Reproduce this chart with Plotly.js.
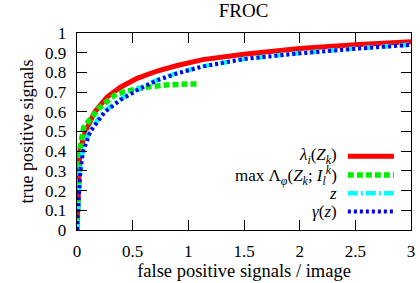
<!DOCTYPE html>
<html><head><meta charset="utf-8">
<script src="https://cdn.plot.ly/plotly-3.0.1.min.js"></script>
<style>html,body{margin:0;padding:0;background:#fff}#chart{width:420px;height:283px}</style>
</head><body><div id="chart"></div>
<script>
// FROC data
var lambdaX = [0, 0.005, 0.01, 0.015, 0.025, 0.075, 0.16, 0.27, 0.39, 0.54, 0.72, 0.9, 1.13, 1.5, 2.0, 2.5, 3.0];
var lambdaY = [0, 0.1, 0.2, 0.3, 0.4, 0.5, 0.6, 0.675, 0.725, 0.77, 0.807, 0.835, 0.865, 0.892, 0.921, 0.94, 0.955];

var maxLambdaX = [0, 0.005, 0.01, 0.015, 0.022, 0.06, 0.13, 0.2, 0.34, 0.42, 0.61, 0.8, 1.0, 1.1];
var maxLambdaY = [0, 0.1, 0.2, 0.3, 0.4, 0.52, 0.575, 0.62, 0.685, 0.702, 0.724, 0.736, 0.741, 0.742];

var zX = [0, 0.008, 0.013, 0.027, 0.05, 0.11, 0.24, 0.38, 0.53, 0.71, 0.89, 1.12, 1.5, 2.0, 2.5, 3.0];
var zY = [0, 0.1, 0.2, 0.3, 0.4, 0.5, 0.6, 0.66, 0.71, 0.76, 0.795, 0.83, 0.868, 0.898, 0.921, 0.941];

var gammaX = [0, 0.01, 0.015, 0.03, 0.055, 0.12, 0.25, 0.39, 0.54, 0.72, 0.9, 1.13, 1.5, 2.0, 2.5, 3.0];
var gammaY = [0, 0.1, 0.2, 0.3, 0.4, 0.5, 0.6, 0.66, 0.71, 0.76, 0.795, 0.83, 0.868, 0.897, 0.92, 0.94];

var seriesNames = [
  '<i>λ<sub>i</sub></i>(<i>Z<sub>k</sub></i>)',
  'max Λ<sub><i>φ</i></sub>(<i>Z<sub>k</sub></i>; <i>I<sub>l</sub><sup>k</sup></i>)',
  '<i>z</i>',
  '<i>γ</i>(<i>z</i>)'
];
var xTicks = [0, 0.5, 1, 1.5, 2, 2.5, 3];
var xTickText = ['0', '0.5', '1', '1.5', '2', '2.5', '3'];
var yTicks = [0, 0.1, 0.2, 0.3, 0.4, 0.5, 0.6, 0.7, 0.8, 0.9, 1];
var yTickText = ['0', '0.1', '0.2', '0.3', '0.4', '0.5', '0.6', '0.7', '0.8', '0.9', '1'];

var FONT = 'Liberation Serif, Times New Roman, serif';
var styles = [
  {color: '#ff0000', width: 5, dash: 'solid'},
  {color: '#00ee00', width: 5.5, dash: '6px,3px'},
  {color: '#00ffff', width: 4.5, dash: '10px,3px,2px,3px'},
  {color: '#0000ee', width: 4, dash: '3px,3px'}
];
var xs = [lambdaX, maxLambdaX, zX, gammaX];
var ys = [lambdaY, maxLambdaY, zY, gammaY];

var traces = xs.map(function (x, i) {
  return {x: x, y: ys[i], type: 'scatter', mode: 'lines', name: seriesNames[i],
          line: styles[i], showlegend: false, hoverinfo: 'skip', cliponaxis: false};
});

// legend drawn gnuplot-style (text left, sample right)
var rowY = [0.375, 0.279, 0.186, 0.094];
var shapes = [], annotations = [];
rowY.forEach(function (yy, i) {
  shapes.push({type: 'line', xref: 'paper', yref: 'paper', x0: 0.811, x1: 0.949, y0: yy, y1: yy,
               line: {color: styles[i].color, width: styles[i].width, dash: styles[i].dash}});
  annotations.push({xref: 'paper', yref: 'paper', x: 0.783, y: yy, xanchor: 'right', yanchor: 'middle',
                    text: seriesNames[i], showarrow: false, font: {family: FONT, size: 17, color: '#000'}});
});

var layout = {
  width: 420, height: 283,
  margin: {l: 77, r: 9, t: 33, b: 53},
  paper_bgcolor: '#fff', plot_bgcolor: '#fff',
  font: {family: FONT, size: 17, color: '#000'},
  title: {text: 'FROC', x: 0.58, xanchor: 'center', y: 1, yanchor: 'top', pad: {t: 4}, font: {family: FONT, size: 19}},
  xaxis: {range: [0, 3], tickvals: xTicks, ticktext: xTickText, ticks: 'inside', ticklen: 10, tickwidth: 1,
          tickcolor: '#000', showline: true, linecolor: '#000', linewidth: 1.3, mirror: 'allticks',
          showgrid: false, zeroline: false, ticklabelstandoff: 5, tickfont: {family: FONT, size: 17},
          automargin: 'bottom',
          title: {text: 'false positive signals / image', standoff: 0, font: {family: FONT, size: 18.5}}},
  yaxis: {range: [0, 1], tickvals: yTicks, ticktext: yTickText, ticks: 'inside', ticklen: 10, tickwidth: 1,
          tickcolor: '#000', showline: true, linecolor: '#000', linewidth: 1.3, mirror: 'allticks',
          showgrid: false, zeroline: false, ticklabelstandoff: 6, tickfont: {family: FONT, size: 17},
          title: {text: 'true positive signals', standoff: 6, font: {family: FONT, size: 18}}},
  shapes: shapes, annotations: annotations
};

Plotly.newPlot('chart', traces, layout, {staticPlot: true, displayModeBar: false});
</script></body></html>
